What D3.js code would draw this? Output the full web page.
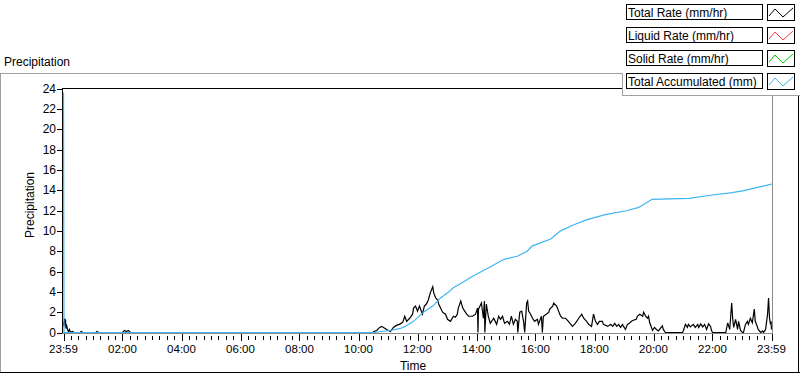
<!DOCTYPE html>
<html lang="en">
<head>
    <meta charset="utf-8">
    <title>Precipitation</title>
    <script src="https://cdn.jsdelivr.net/npm/d3@7"></script>
    <style>
        body { margin: 0; background: #fff; }
        svg { display: block; font-family: "Liberation Sans", Arial, sans-serif; }
    </style>
</head>
<body>
    <svg id="chart" width="800" height="373"></svg>

    <script>
        // minutes since 23:59, value in mm/hr
        const totalRate = [
            [0,1.0],[1,0.6],[2,1.4],[3,0.9],[4,1.3],[5,0.4],[6,0.8],[8,0.3],[10,0.1],[12,0.3],[14,0],[18,0.1],[22,0],
            [34,0],[36,0.1],[40,0],[66,0],[68,0.1],[72,0],[120,0],[124,0.2],[128,0.1],[132,0.2],[136,0],[630,0],
            [631,0.1],[637,0.2],[643,0.5],[647,0.6],[651,0.5],[657,0.3],[665,0.1],[671,0.5],[677,0.7],[683,0.8],
            [690,1.0],[694,1.6],[698,1.1],[704,1.4],[710,1.8],[712,2.4],[716,2.6],[720,2.1],[724,2.6],[730,1.8],
            [734,2.6],[738,2.8],[742,3.2],[746,3.9],[751,4.5],[753,3.9],[757,3.4],[761,3.2],[763,2.8],[767,2.4],
            [771,2.0],[777,1.8],[781,1.3],[787,1.1],[793,1.6],[797,1.5],[801,1.8],[803,2.4],[808,3.1],[812,2.4],
            [816,2.1],[820,1.8],[824,1.6],[832,1.6],[838,1.8],[842,2.4],[843,0],[844,2.3],[850,2.9],[854,1.4],
            [856,3.1],[857,0],[860,2.8],[864,1.6],[868,0.9],[875,1.4],[881,0.8],[885,1.6],[889,1.3],[893,1.6],
            [897,0.9],[903,1.1],[907,0.8],[911,1.6],[915,0.8],[919,1.3],[923,1.1],[924,0],[928,2.0],[932,2.1],
            [936,1.0],[938,0],[942,2.9],[944,3.1],[946,2.1],[950,1.8],[954,1.4],[958,1.1],[964,1.3],[966,0.8],
            [972,1.6],[974,0],[976,1.6],[982,1.8],[987,2.0],[989,2.3],[995,2.6],[997,2.9],[1003,2.6],[1007,2.1],
            [1011,1.6],[1015,1.4],[1021,1.4],[1027,1.1],[1035,0.6],[1041,0.9],[1048,1.4],[1054,1.8],[1058,1.4],
            [1064,1.1],[1068,0.8],[1074,0.6],[1078,1.8],[1082,1.1],[1086,0.8],[1090,1.1],[1096,1.1],[1098,0.8],
            [1107,0.6],[1113,0.8],[1117,0.6],[1121,0.9],[1125,0.6],[1129,0.8],[1133,0.5],[1137,0.8],[1139,0.6],
            [1143,0.3],[1147,0.8],[1151,0.9],[1155,1.1],[1159,1.2],[1165,1.3],[1167,1.6],[1172,1.8],[1178,1.6],
            [1180,2.0],[1184,1.6],[1188,1.4],[1190,1.6],[1192,1.0],[1196,0.5],[1198,0.2],[1202,0.5],[1206,0.3],
            [1210,0.15],[1214,0.4],[1218,0.65],[1220,0.3],[1224,0],[1259,0],[1261,0.2],[1265,0.8],[1269,0.5],
            [1271,0.8],[1275,0.55],[1281,0.8],[1285,0.5],[1290,0.8],[1292,0.5],[1296,0.85],[1300,0.55],[1304,0.8],
            [1308,0.3],[1312,0.85],[1316,0.6],[1318,0.2],[1320,0],[1347,0],[1349,0.5],[1351,0.95],[1355,0.3],
            [1359,2.9],[1361,1.4],[1363,0.5],[1367,1.3],[1371,0.3],[1373,1.1],[1377,0.2],[1381,0],[1383,0],
            [1387,0.8],[1391,1.1],[1393,0.8],[1397,1.4],[1401,0.95],[1405,2.3],[1407,1.1],[1411,0.6],[1413,0.3],
            [1418,0],[1422,0.15],[1424,0],[1428,0.3],[1432,1.8],[1434,3.4],[1436,1.4],[1438,0.8],[1439,1.1],[1440,0.3]
        ];

        // minutes since 23:59, accumulated mm
        const totalAccumulated = [
            [0,23.6],[1,0],[635,0],[645,0.1],[665,0.2],[685,0.4],[695,0.6],[712,1.1],[732,2.0],[751,2.6],
            [767,3.4],[781,3.9],[793,4.4],[814,5.0],[835,5.6],[862,6.3],[896,7.2],[923,7.5],[943,8.0],[953,8.5],
            [991,9.2],[1011,10.0],[1038,10.6],[1065,11.1],[1102,11.6],[1147,12.0],[1170,12.3],[1197,13.1],
            [1272,13.2],[1316,13.5],[1360,13.75],[1384,13.95],[1418,14.35],[1440,14.6]
        ];

        const yTicks = d3.range(0, 25, 2);
        const xTickMinutes = d3.range(0, 1441, 120);
        const xTickLabels = ["23:59", "02:00", "04:00", "06:00", "08:00", "10:00", "12:00",
                             "14:00", "16:00", "18:00", "20:00", "22:00", "23:59"];
        const legendLabels = ["Total Rate (mm/hr)", "Liquid Rate (mm/hr)", "Solid Rate (mm/hr)", "Total Accumulated (mm)"];
        const legendColors = ["#000000", "#ff3b3b", "#00cc00", "#3eb4f0"];

        const svg = d3.select("#chart");
        const plotLeft = 63.5, plotRight = 771.5, plotTop = 88.5, plotBottom = 332.5;

        const x = d3.scaleLinear().domain([0, 1440]).range([plotLeft, plotRight]);
        const y = d3.scaleLinear().domain([0, 24]).range([plotBottom, plotTop]);

        // outer panel frame
        svg.append("line").attr("x1", 0).attr("x2", 622).attr("y1", 73.5).attr("y2", 73.5).attr("stroke", "#a0a0a0");
        svg.append("line").attr("x1", 0.5).attr("x2", 0.5).attr("y1", 73).attr("y2", 373).attr("stroke", "#a0a0a0");
        svg.append("line").attr("x1", 0).attr("x2", 800).attr("y1", 372.5).attr("y2", 372.5).attr("stroke", "#000");
        svg.append("line").attr("x1", 798.5).attr("x2", 798.5).attr("y1", 95).attr("y2", 373).attr("stroke", "#000");

        svg.append("text")
            .attr("x", 4).attr("y", 66)
            .attr("font-size", 12)
            .text("Precipitation");

        // plot frame: dark top/left, gray bottom/right
        svg.append("line").attr("x1", 62).attr("x2", 773).attr("y1", 88.5).attr("y2", 88.5).attr("stroke", "#000");
        svg.append("line").attr("x1", 62.5).attr("x2", 62.5).attr("y1", 88).attr("y2", 334).attr("stroke", "#000");
        svg.append("line").attr("x1", 772.5).attr("x2", 772.5).attr("y1", 88).attr("y2", 334).attr("stroke", "#8a8a8a");
        svg.append("line").attr("x1", 62).attr("x2", 773).attr("y1", 333.5).attr("y2", 333.5).attr("stroke", "#8a8a8a");

        // y axis
        const yAxis = svg.append("g");
        yAxis.selectAll("line")
            .data(yTicks)
            .enter().append("line")
            .attr("x1", 57).attr("x2", 62)
            .attr("y1", d => Math.round(y(d)) + 0.5)
            .attr("y2", d => Math.round(y(d)) + 0.5)
            .attr("stroke", "#000");
        yAxis.selectAll("text")
            .data(yTicks)
            .enter().append("text")
            .attr("x", 56)
            .attr("y", d => y(d))
            .attr("dy", "0.36em")
            .attr("text-anchor", "end")
            .attr("font-size", 12)
            .text(d => d);

        svg.append("text")
            .attr("transform", "translate(34,205) rotate(-90)")
            .attr("text-anchor", "middle")
            .attr("font-size", 12)
            .text("Precipitation");

        // x axis
        const minorTicks = d3.range(0, 1441, 15).filter(m => m % 120 !== 0);
        const xAxis = svg.append("g");
        xAxis.selectAll("line.minor")
            .data(minorTicks)
            .enter().append("line")
            .attr("class", "minor")
            .attr("x1", d => Math.round(x(d)) + 0.5)
            .attr("x2", d => Math.round(x(d)) + 0.5)
            .attr("y1", 336).attr("y2", 340)
            .attr("stroke", "#000");
        xAxis.selectAll("line.major")
            .data(xTickMinutes)
            .enter().append("line")
            .attr("class", "major")
            .attr("x1", d => Math.round(x(d)) + 0.5)
            .attr("x2", d => Math.round(x(d)) + 0.5)
            .attr("y1", 334).attr("y2", 341)
            .attr("stroke", "#000");
        xAxis.selectAll("text")
            .data(xTickMinutes)
            .enter().append("text")
            .attr("x", d => x(d))
            .attr("y", 353)
            .attr("text-anchor", "middle")
            .attr("font-size", 11.5)
            .text((d, i) => xTickLabels[i]);

        svg.append("text")
            .attr("x", 413).attr("y", 370)
            .attr("text-anchor", "middle")
            .attr("font-size", 12)
            .text("Time");

        // series
        const line = d3.line()
            .x(d => x(d[0]))
            .y(d => y(d[1]));

        svg.append("path")
            .datum(totalRate)
            .attr("d", line)
            .attr("fill", "none")
            .attr("stroke", legendColors[0])
            .attr("stroke-width", 1.2);

        svg.append("path")
            .datum(totalAccumulated)
            .attr("d", line)
            .attr("fill", "none")
            .attr("stroke", legendColors[3])
            .attr("stroke-width", 1.2);

        // legend panel
        svg.append("rect").attr("x", 622).attr("y", 0).attr("width", 178).attr("height", 95).attr("fill", "#fff");
        svg.append("line").attr("x1", 622).attr("x2", 800).attr("y1", 95.5).attr("y2", 95.5).attr("stroke", "#a0a0a0");
        svg.append("line").attr("x1", 622.5).attr("x2", 622.5).attr("y1", 73).attr("y2", 96).attr("stroke", "#a0a0a0");

        const rows = svg.selectAll("g.legend")
            .data(legendLabels)
            .enter().append("g")
            .attr("class", "legend")
            .attr("transform", (d, i) => `translate(0,${4 + i * 23})`);

        rows.append("rect")
            .attr("x", 626.5).attr("y", 0.5)
            .attr("width", 136).attr("height", 15)
            .attr("fill", "#fff").attr("stroke", "#000");
        rows.append("text")
            .attr("x", 628).attr("y", 12.5)
            .attr("font-size", 12)
            .text(d => d);
        rows.append("rect")
            .attr("x", 767.5).attr("y", 0.5)
            .attr("width", 27).attr("height", 16)
            .attr("fill", "#fff").attr("stroke", "#000");
        rows.append("polyline")
            .attr("points", "769,12 775,5 783,13 793,4")
            .attr("fill", "none")
            .attr("stroke", (d, i) => legendColors[i]);
    </script>
</body>
</html>
